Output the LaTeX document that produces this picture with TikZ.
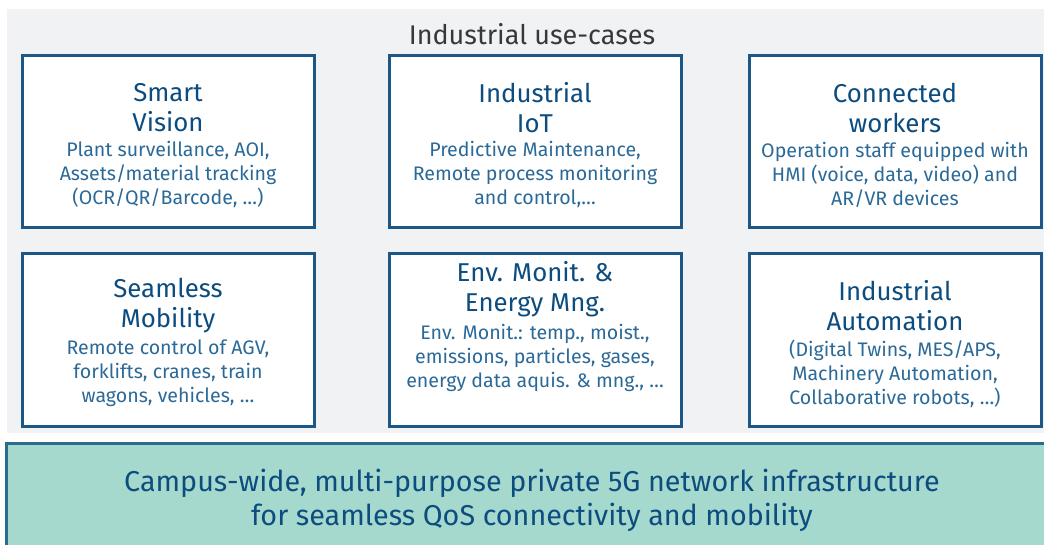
\documentclass[tikz,border=0pt]{standalone}
\usepackage{fontspec}
\setmainfont{Fira Sans}
\usetikzlibrary{positioning}

\definecolor{bggray}{HTML}{F1F2F4}
\definecolor{boxblue}{HTML}{1B5888}
\definecolor{headblue}{HTML}{0C4C7E}
\definecolor{subblue}{HTML}{2B6A98}
\definecolor{tealfill}{HTML}{A6D9CE}
\definecolor{tealline}{HTML}{2A6C8E}

\begin{document}
\begin{tikzpicture}[x=1pt, y=-1pt,
  casebox/.style={draw=boxblue, line width=3pt, fill=white, minimum width=292pt, minimum height=172pt, inner sep=0pt},
  casehead/.style={text=headblue, align=center, font=\fontsize{25.8}{30}\selectfont, inner sep=0pt},
  casesub/.style={text=subblue, align=center, font=\fontsize{19.6}{24}\selectfont, inner sep=0pt}]
  \useasboundingbox (0,0) rectangle (1044,545);
  % background panels
  \fill[bggray] (7,9) rectangle (1044,433);
  \node[text=black!78, font=\fontsize{27}{30}\selectfont, inner sep=0pt] (ttl) at (532,34) {Industrial use-cases};
  \fill[tealfill] (6,443) rectangle (1046,547);
  \draw[tealline, line width=3pt] (6,547) -- (6,443) -- (1046,443);
  % top row
  \node[casebox] (sv) at (168,142) {};
  \node[casebox] (iot) at (535,142) {};
  \node[casebox] (cw) at (895,142) {};
  % bottom row
  \node[casebox] (sm) at (168,340) {};
  \node[casebox] (env) at (535,340) {};
  \node[casebox] (ia) at (895,340) {};
  % texts
  \node[casehead] (svh) at ([yshift=-53pt]sv.north) {Smart\\Vision};
  \node[casesub] (svs) at ([yshift=-120pt]sv.north) {Plant surveillance, AOI,\\Assets/material tracking\\(OCR/QR/Barcode, \dots)};
  \node[casehead] (ioth) at ([yshift=-53pt]iot.north) {Industrial\\IoT};
  \node[casesub] (iots) at ([yshift=-120pt]iot.north) {Predictive Maintenance,\\Remote process monitoring\\and control,\dots};
  \node[casehead] (cwh) at ([yshift=-53pt]cw.north) {Connected\\workers};
  \node[casesub] (cws) at ([yshift=-120pt]cw.north) {Operation staff equipped with\\HMI (voice, data, video) and\\AR/VR devices};
  \node[casehead] (smh) at ([yshift=-53pt]sm.north) {Seamless\\Mobility};
  \node[casesub] (sms) at ([yshift=-121pt]sm.north) {Remote control of AGV,\\forklifts, cranes, train\\wagons, vehicles, \dots};
  \node[casehead] (envh) at ([yshift=-37pt]env.north) {Env. Monit. \&\\Energy Mng.};
  \node[casesub] (envs) at ([yshift=-105pt]env.north) {Env. Monit.: temp., moist.,\\emissions, particles, gases,\\energy data aquis. \& mng., \dots};
  \node[casehead] (iah) at ([yshift=-53pt]ia.north) {Industrial\\Automation};
  \node[casesub] (ias) at ([yshift=-121pt]ia.north) {(Digital Twins, MES/APS,\\Machinery Automation,\\Collaborative robots, \dots)};
  % infrastructure
  \node[text=headblue, align=center, font=\fontsize{28.7}{34}\selectfont, inner sep=0pt] (infra) at (532,500) {Campus-wide, multi-purpose private 5G network infrastructure\\for seamless QoS connectivity and mobility};
\end{tikzpicture}
\end{document}
